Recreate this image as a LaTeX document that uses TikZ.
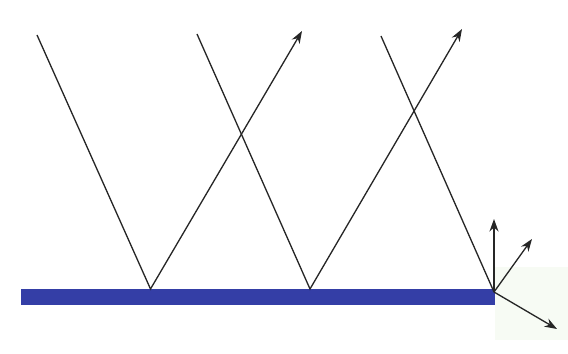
\documentclass[tikz,border=0pt]{standalone}
\usepackage{xcolor}
\usepackage{tikz}
\usetikzlibrary{arrows.meta}

\definecolor{mirrorblue}{RGB}{52,62,166}
\definecolor{palegreen}{RGB}{247,251,244}

\begin{document}
\begin{tikzpicture}[
        x=0.02cm, y=-0.02cm,
        ray/.style={
            line width=0.75pt,
            draw=black!85,
            line join=miter
        },
        rayout/.style={
            ray,
            -{Stealth[length=2.5mm, width=1.8mm]}
        }
    ]

    \useasboundingbox (0,0) rectangle (568,354);

    % faint patch and mirror
    \fill[palegreen] (495,267) rectangle (568,340);
    \fill[mirrorblue] (21,289) rectangle (495,305);

    % ray points
    \coordinate (src1) at (37,35);
    \coordinate (hit1) at (150.5,289);
    \coordinate (out1) at (302,31);

    \coordinate (src2) at (197,34);
    \coordinate (hit2) at (310,289);
    \coordinate (out2) at (462,29);

    \coordinate (src3) at (381,36);
    \coordinate (hit3) at (494,292);
    \coordinate (up) at (494,219);
    \coordinate (slant) at (532,239);
    \coordinate (down) at (557,329);

    % reflected rays
    \draw[rayout] (src1) -- (hit1) -- (out1);
    \draw[rayout] (src2) -- (hit2) -- (out2);

    % ray at the edge
    \draw[ray] (src3) -- (hit3);
    \draw[rayout] (hit3) -- (up);
    \draw[rayout] (hit3) -- (slant);
    \draw[rayout] (hit3) -- (down);

\end{tikzpicture}
\end{document}
